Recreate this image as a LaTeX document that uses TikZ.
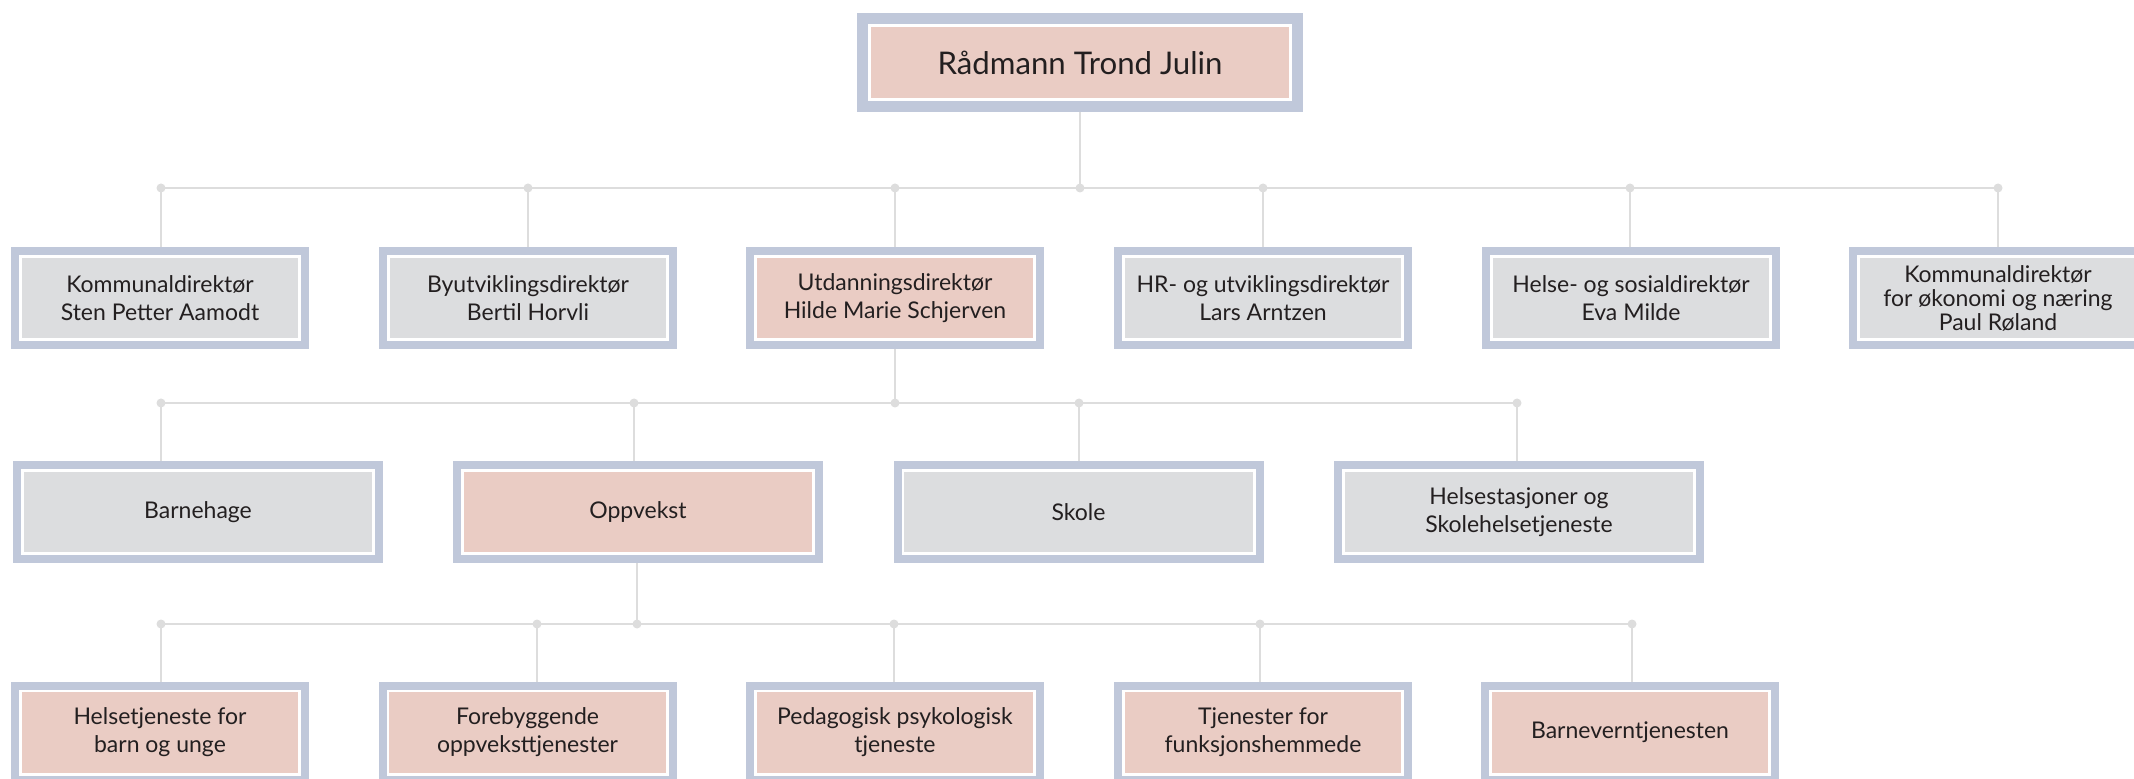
\documentclass[tikz,border=0pt]{standalone}
\usepackage{fontspec}
\setmainfont{Lato}
\usetikzlibrary{backgrounds}
\definecolor{bandc}{HTML}{C0C8DA}
\definecolor{pinkc}{HTML}{EACCC4}
\definecolor{greyc}{HTML}{DCDDDF}
\definecolor{linec}{HTML}{DDDDDD}
\definecolor{txtc}{HTML}{231F20}
\tikzset{
  orgbox/.style={rectangle, inner sep=0pt, align=center, text=txtc,
    font=\fontsize{11.5}{14}\selectfont,
    draw=white, line width=1.35pt,
    preaction={draw=bandc, line width=9.35pt},
    minimum height=41.65pt},
  pinkbox/.style={orgbox, fill=pinkc},
  greybox/.style={orgbox, fill=greyc},
  narrowbox/.style={minimum width=139.65pt},
  widebox/.style={minimum width=175.65pt},
  topbox/.style={rectangle, inner sep=0pt, align=center, text=txtc,
    font=\fontsize{15.6}{18}\selectfont, fill=pinkc,
    draw=white, line width=1.5pt,
    preaction={draw=bandc, line width=12.5pt},
    minimum width=210.5pt, minimum height=37pt},
  junc/.style={circle, fill=linec, inner sep=0pt, minimum size=4.5pt},
  conn/.style={draw=linec, line width=1.25pt},
}
\begin{document}
\begin{tikzpicture}[x=0.5pt, y=-0.5pt]
\useasboundingbox (0,0) rectangle (2134,779);
\clip (0,0) rectangle (2134,779);

% top
\node[topbox] (top) at (1080,62.5) {Rådmann Trond Julin};

% level 1
\node[greybox, narrowbox] (k1) at (160,298) {Kommunaldirektør\\Sten Petter Aamodt};
\node[greybox, narrowbox] (by) at (528,298) {Byutviklingsdirektør\\Bertil Horvli};
\node[pinkbox, narrowbox] (ut) at (895,298) {Utdanningsdirektør\\Hilde Marie Schjerven};
\node[greybox, narrowbox] (hr) at (1263,298) {HR- og utviklingsdirektør\\Lars Arntzen};
\node[greybox, narrowbox] (he) at (1631,298) {Helse- og sosialdirektør\\Eva Milde};
\node[greybox, narrowbox, font=\fontsize{11.5}{12}\selectfont] (k2) at (1998,298) {Kommunaldirektør\\for økonomi og næring\\Paul Røland};

% level 2
\node[greybox, widebox] (bh) at (198,512) {Barnehage};
\node[pinkbox, widebox] (op) at (638,512) {Oppvekst};
\node[greybox, widebox] (sk) at (1078.5,512) {Skole};
\node[greybox, widebox] (hs) at (1519,512) {Helsestasjoner og\\Skolehelsetjeneste};

% level 3
\node[pinkbox, narrowbox] (hb) at (160,732.5) {Helsetjeneste for\\barn og unge};
\node[pinkbox, narrowbox] (fo) at (527.5,732.5) {Forebyggende\\oppveksttjenester};
\node[pinkbox, narrowbox] (pp) at (895,732.5) {Pedagogisk psykologisk\\tjeneste};
\node[pinkbox, narrowbox] (tf) at (1263,732.5) {Tjenester for\\funksjonshemmede};
\node[pinkbox, narrowbox] (bv) at (1630,732.5) {Barneverntjenesten};

% junction dots level 1
\node[junc] (a1) at (161,188) {};
\node[junc] (a2) at (528,188) {};
\node[junc] (a3) at (895,188) {};
\node[junc] (a0) at (1080,188) {};
\node[junc] (a4) at (1263,188) {};
\node[junc] (a5) at (1630,188) {};
\node[junc] (a6) at (1998,188) {};
% level 2
\node[junc] (b1) at (161,403) {};
\node[junc] (b2) at (634,403) {};
\node[junc] (b0) at (895,403) {};
\node[junc] (b3) at (1079,403) {};
\node[junc] (b4) at (1517,403) {};
% level 3
\node[junc] (c1) at (161,624) {};
\node[junc] (c2) at (537,624) {};
\node[junc] (c0) at (637,624) {};
\node[junc] (c3) at (894,624) {};
\node[junc] (c4) at (1260,624) {};
\node[junc] (c5) at (1632,624) {};

\begin{pgfonlayer}{background}
  % level 1
  \path[conn] (top.south) -- (a0.center);
  \path[conn] (a1.center) -- (a6.center);
  \path[conn] (a1.center) -- (a1.center |- k1.north);
  \path[conn] (a2.center) -- (a2.center |- by.north);
  \path[conn] (a3.center) -- (a3.center |- ut.north);
  \path[conn] (a4.center) -- (a4.center |- hr.north);
  \path[conn] (a5.center) -- (a5.center |- he.north);
  \path[conn] (a6.center) -- (a6.center |- k2.north);
  % level 2
  \path[conn] (ut.south) -- (b0.center);
  \path[conn] (b1.center) -- (b4.center);
  \path[conn] (b1.center) -- (b1.center |- bh.north);
  \path[conn] (b2.center) -- (b2.center |- op.north);
  \path[conn] (b3.center) -- (b3.center |- sk.north);
  \path[conn] (b4.center) -- (b4.center |- hs.north);
  % level 3
  \path[conn] (c0.center |- op.south) -- (c0.center);
  \path[conn] (c1.center) -- (c5.center);
  \path[conn] (c1.center) -- (c1.center |- hb.north);
  \path[conn] (c2.center) -- (c2.center |- fo.north);
  \path[conn] (c3.center) -- (c3.center |- pp.north);
  \path[conn] (c4.center) -- (c4.center |- tf.north);
  \path[conn] (c5.center) -- (c5.center |- bv.north);
\end{pgfonlayer}
\end{tikzpicture}
\end{document}
